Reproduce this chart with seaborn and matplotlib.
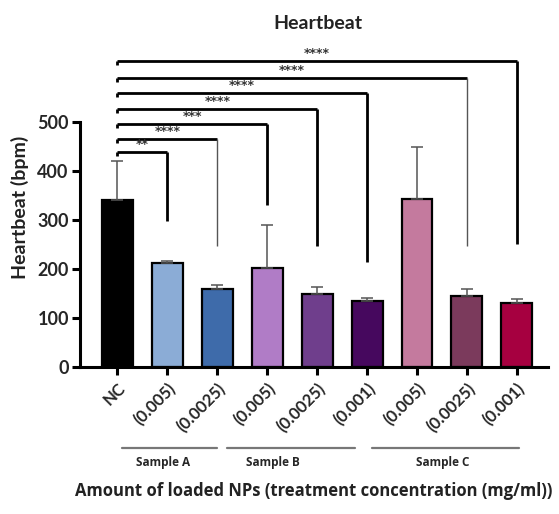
import matplotlib
matplotlib.use("Agg")
import matplotlib.pyplot as plt
import seaborn as sns
import pandas as pd
import numpy as np

sns.set_theme(style="white")
plt.rcParams["font.family"] = ["Lato", "DejaVu Sans"]
plt.rcParams["font.weight"] = "bold"

# Groups and measured heartbeat (mean, SD)
group_ids = ["NC", "A1", "A2", "B1", "B2", "B3", "C1", "C2", "C3"]
tick_labels = ["NC", "(0.005)", "(0.0025)", "(0.005)", "(0.0025)", "(0.001)",
               "(0.005)", "(0.0025)", "(0.001)"]
mean_bpm = [340, 212, 160, 202, 150, 134, 343, 145, 131]
sd_bpm = [80, 4, 8, 88, 14, 7, 107, 15, 8]
bar_colors = ["#000000", "#8BACD6", "#3E6BAA", "#B07CC6", "#6F3E8C",
              "#46085E", "#C47A9E", "#7B3A5C", "#A60040"]

# Comparisons vs NC: target group index, stars, bracket height, drop-down end
cmp_target = [1, 2, 3, 4, 5, 7, 8]
cmp_stars = ["**", "****", "***", "****", "****", "****", "****"]
cmp_level = [439, 465, 496, 527, 559, 590, 624]
cmp_drop = [297, 247, 330, 247, 215, 247, 251]
cmp_thin = [False, True, False, False, False, True, False]

# Sample groupings under the axis: line start, line end, label position, label
sample_spans = [(0.1, 2.0, 0.91, "Sample A"), (2.2, 4.75, 3.11, "Sample B"),
                (5.1, 8.05, 6.51, "Sample C")]

df = pd.DataFrame({"group": group_ids, "bpm": mean_bpm})

fig = plt.figure(figsize=(5.59, 5.14), dpi=100)
ax = fig.add_axes([0.143, 0.286, 0.837, 0.6196])

sns.barplot(data=df, x="group", y="bpm", hue="group", palette=bar_colors,
            saturation=1, legend=False, width=0.62, edgecolor="black",
            linewidth=1.6, errorbar=None, ax=ax)
x = np.arange(len(group_ids))
ax.errorbar(x, mean_bpm, yerr=[np.zeros(len(sd_bpm)), sd_bpm], fmt="none",
            ecolor="#555555", elinewidth=1.1, capsize=4, capthick=1.1, zorder=1)

ax.set_xlim(-0.75, 8.62)
ax.set_ylim(0, 650)
ax.set_yticks([0, 100, 200, 300, 400, 500])
ax.spines["left"].set_bounds(0, 500)
for s in ["top", "right"]:
    ax.spines[s].set_visible(False)
for s in ["left", "bottom"]:
    ax.spines[s].set_linewidth(2.2)
    ax.spines[s].set_color("black")
ax.tick_params(axis="both", direction="out", length=6, width=2.2, color="black",
               bottom=True, left=True)
ax.tick_params(axis="y", labelsize=13, pad=2)
ax.set_xticks(x)
ax.set_xticklabels(tick_labels, rotation=45, ha="right", rotation_mode="anchor",
                   fontsize=12, fontweight="bold")
for lbl in ax.get_yticklabels():
    lbl.set_fontweight("bold")
ax.set_xlabel("")
ax.set_ylabel("Heartbeat (bpm)", fontsize=14, fontweight="bold", labelpad=6,
              color="#222222")
fig.text(0.568, 0.955, "Heartbeat", ha="center", va="center", fontsize=14,
         fontweight="bold", color="#222222")

# Significance brackets from NC to each group
for tgt, stars, lev, drop, thin in zip(cmp_target, cmp_stars, cmp_level, cmp_drop, cmp_thin):
    ax.plot([0, tgt], [lev, lev], color="black", lw=2.0, clip_on=False,
            solid_capstyle="butt")
    ax.plot([0, 0], [lev, lev - 8], color="black", lw=2.0, clip_on=False,
            solid_capstyle="butt")
    ax.plot([tgt, tgt], [lev, drop], color="#555555" if thin else "black",
            lw=1.0 if thin else 2.0, clip_on=False, solid_capstyle="butt")
    ax.text(tgt / 2, lev + 2, stars, ha="center", va="bottom", fontsize=9,
            fontweight="bold", color="#333333", clip_on=False,
            family=["DejaVu Sans"])

# Sample group underlines and names
trans = ax.get_xaxis_transform()
for x0, x1, xt, name in sample_spans:
    ax.plot([x0, x1], [-0.255, -0.255], color="#777777", lw=1.6, transform=trans,
            clip_on=False)
    ax.text(xt, -0.28, name, ha="center", va="top", fontsize=8.5,
            fontweight="bold", transform=trans, family=["Open Sans", "DejaVu Sans"])

fig.text(0.562, 0.045, "Amount of loaded NPs (treatment concentration (mg/ml))",
         ha="center", va="center", fontsize=12, fontweight="bold",
         color="#222222", family=["Open Sans", "DejaVu Sans"])

fig.savefig("out.png", dpi=100)
